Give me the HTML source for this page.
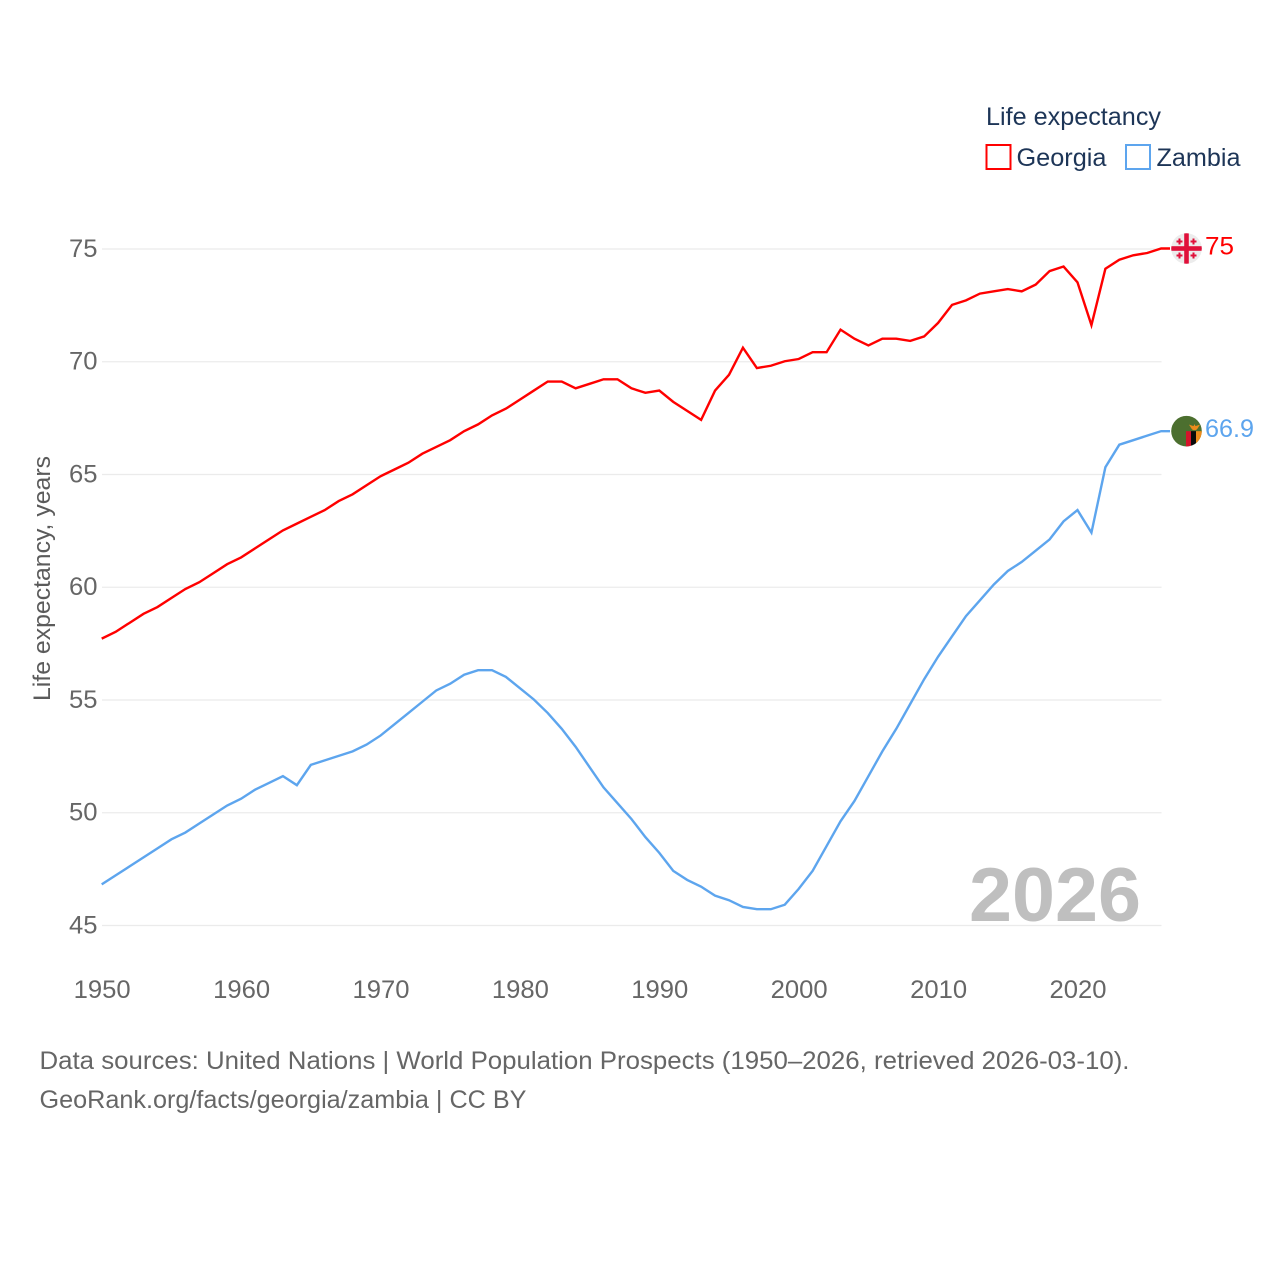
<!DOCTYPE html>
<html lang="en">
<head>
<meta charset="utf-8">
<title>Life expectancy: Georgia and Zambia</title>
<style>
html,body{margin:0;padding:0;background:#fff;width:1280px;height:1280px;overflow:hidden}
svg{display:block}
text{font-family:"Liberation Sans",sans-serif}
</style>
</head>
<body>
<svg id="chart" xmlns="http://www.w3.org/2000/svg" width="1280" height="1280" viewBox="0 0 1280 1280">
  <rect width="1280" height="1280" fill="#fff"/>
  <defs>
    <clipPath id="georgia-clip"><circle cx="0" cy="0" r="15.3"/></clipPath>
    <clipPath id="zambia-clip"><circle cx="0" cy="0" r="15.3"/></clipPath>
  </defs>
  <g id="grid"></g>
  <g id="yticks"></g>
  <g id="xticks"></g>
  <text transform="translate(50,701) rotate(-90)" font-size="24" fill="#5b5b5b" textLength="245" lengthAdjust="spacingAndGlyphs">Life expectancy, years</text>
  <text x="969" y="921" font-size="76" font-weight="700" fill="#bfbfbf" textLength="172" lengthAdjust="spacingAndGlyphs">2026</text>
  <g id="series" transform="translate(0,-0.5)"></g>

  <g id="georgia-flag">
    <g clip-path="url(#georgia-clip)">
      <rect x="-16" y="-16" width="32" height="32" fill="#ececec"/>
      <rect x="-2.3" y="-16" width="4.6" height="32" fill="#e0103a"/>
      <rect x="-16" y="-2.3" width="32" height="4.6" fill="#e0103a"/>
      <path d="M-8-10h2v2h2v2h-2v2h-2v-2h-2v-2h2zM6-10h2v2h2v2h-2v2h-2v-2h-2v-2h2zM-8 4h2v2h2v2h-2v2h-2v-2h-2v-2h2zM6 4h2v2h2v2h-2v2h-2v-2h-2v-2h2z" fill="#e0103a"/>
    </g>
  </g>
  <g id="zambia-flag">
    <g clip-path="url(#zambia-clip)">
      <rect x="-16" y="-16" width="32" height="32" fill="#4c6f2f"/>
      <rect x="-0.5" y="0" width="5" height="16" fill="#d5142b"/>
      <rect x="4.5" y="0" width="5" height="16" fill="#0b0b0b"/>
      <rect x="9.5" y="0" width="6" height="16" fill="#ee8c1c"/>
      <path d="M2.5-6.5l4.5 1.5 1-2 1 2 4.5-1.5-2.5 4-1.5 1.5h-3l-1.5-1.5z" fill="#ee8c1c"/>
    </g>
  </g>

  <g id="legend">
    <text x="986" y="125" font-size="25" fill="#1d3557" textLength="175" lengthAdjust="spacingAndGlyphs">Life expectancy</text>
    <g>
      <rect x="986.5" y="145" width="24" height="24" fill="#fff" stroke="#ff0000" stroke-width="2"/>
      <text x="1016.5" y="166" font-size="25" fill="#1d3557" textLength="90" lengthAdjust="spacingAndGlyphs">Georgia</text>
    </g>
    <g>
      <rect x="1126" y="145" width="24" height="24" fill="#fff" stroke="#5da5ee" stroke-width="2"/>
      <text x="1156.5" y="166" font-size="25" fill="#1d3557" textLength="84" lengthAdjust="spacingAndGlyphs">Zambia</text>
    </g>
  </g>

  <text x="39.5" y="1069" font-size="25" fill="#666" textLength="1090" lengthAdjust="spacingAndGlyphs">Data sources: United Nations | World Population Prospects (1950–2026, retrieved 2026-03-10).</text>
  <text x="39.5" y="1108" font-size="25" fill="#666" textLength="487" lengthAdjust="spacingAndGlyphs">GeoRank.org/facts/georgia/zambia | CC BY</text>
</svg>
<script>
const years = [1950,1951,1952,1953,1954,1955,1956,1957,1958,1959,1960,1961,1962,1963,1964,1965,1966,1967,1968,1969,1970,1971,1972,1973,1974,1975,1976,1977,1978,1979,1980,1981,1982,1983,1984,1985,1986,1987,1988,1989,1990,1991,1992,1993,1994,1995,1996,1997,1998,1999,2000,2001,2002,2003,2004,2005,2006,2007,2008,2009,2010,2011,2012,2013,2014,2015,2016,2017,2018,2019,2020,2021,2022,2023,2024,2025,2026];
const georgiaValues = [57.7,58.0,58.4,58.8,59.1,59.5,59.9,60.2,60.6,61.0,61.3,61.7,62.1,62.5,62.8,63.1,63.4,63.8,64.1,64.5,64.9,65.2,65.5,65.9,66.2,66.5,66.9,67.2,67.6,67.9,68.3,68.7,69.1,69.1,68.8,69.0,69.2,69.2,68.8,68.6,68.7,68.2,67.8,67.4,68.7,69.4,70.6,69.7,69.8,70.0,70.1,70.4,70.4,71.4,71.0,70.7,71.0,71.0,70.9,71.1,71.7,72.5,72.7,73.0,73.1,73.2,73.1,73.4,74.0,74.2,73.5,71.6,74.1,74.5,74.7,74.8,75.0];
const zambiaValues = [46.8,47.2,47.6,48.0,48.4,48.8,49.1,49.5,49.9,50.3,50.6,51.0,51.3,51.6,51.2,52.1,52.3,52.5,52.7,53.0,53.4,53.9,54.4,54.9,55.4,55.7,56.1,56.3,56.3,56.0,55.5,55.0,54.4,53.7,52.9,52.0,51.1,50.4,49.7,48.9,48.2,47.4,47.0,46.7,46.3,46.1,45.8,45.7,45.7,45.9,46.6,47.4,48.5,49.6,50.5,51.6,52.7,53.7,54.8,55.9,56.9,57.8,58.7,59.4,60.1,60.7,61.1,61.6,62.1,62.9,63.4,62.4,65.3,66.3,66.5,66.7,66.9];
const yTickValues = [45,50,55,60,65,70,75];
const xTickValues = [1950,1960,1970,1980,1990,2000,2010,2020];
const georgiaEndLabel = "75";
const zambiaEndLabel = "66.9";

const SVG_NS = "http://www.w3.org/2000/svg";
const X0 = 101.7, X_PER_YEAR = 13.94, Y0 = 925.5, Y_PER_UNIT = 22.55;
const GRID_RIGHT = 1161.5, TAIL_RIGHT = 1170, MARKER_X = 1186.5, LABEL_X = 1205;
function xScale(year){ return X0 + (year - 1950) * X_PER_YEAR; }
function yScale(value){ return Y0 - (value - 45) * Y_PER_UNIT; }
function make(tag, attrs){
  const el = document.createElementNS(SVG_NS, tag);
  for (const k in attrs) el.setAttribute(k, attrs[k]);
  return el;
}

const grid = document.getElementById("grid");
const yticks = document.getElementById("yticks");
const xticks = document.getElementById("xticks");
const series = document.getElementById("series");
const chart = document.getElementById("chart");

yTickValues.forEach(function(v){
  const line = make("line", {x1:102, x2:GRID_RIGHT, y1:yScale(v), y2:yScale(v), stroke:"#ebebeb", "stroke-width":1.3});
  
  
  grid.appendChild(line);
  const t = make("text", {x:97.5, y:yScale(v)+7.8, "font-size":25, fill:"#666", "text-anchor":"end", textLength:28.5, lengthAdjust:"spacingAndGlyphs"});
  
  
  t.textContent = String(v);
  yticks.appendChild(t);
});

xTickValues.forEach(function(y){
  const t = make("text", {x:xScale(y)+0.5, y:998, "font-size":25, fill:"#666", "text-anchor":"middle", textLength:57, lengthAdjust:"spacingAndGlyphs"});
  
  
  t.textContent = String(y);
  xticks.appendChild(t);
});

function linePoints(values){
  const pts = values.map(function(v, i){ return xScale(years[i]).toFixed(2) + "," + yScale(v).toFixed(2); });
  pts.push(TAIL_RIGHT + "," + yScale(values[values.length-1]).toFixed(2));
  return pts.join(" ");
}

const georgiaLine = make("polyline", {points:linePoints(georgiaValues), fill:"none", stroke:"#ff0000", "stroke-width":2.4, "stroke-linejoin":"miter"});


series.appendChild(georgiaLine);

const zambiaLine = make("polyline", {points:linePoints(zambiaValues), fill:"none", stroke:"#5da5ee", "stroke-width":2.4, "stroke-linejoin":"miter"});


series.appendChild(zambiaLine);

const georgiaLast = yScale(georgiaValues[georgiaValues.length-1]);
const zambiaLast = yScale(zambiaValues[zambiaValues.length-1]);
document.getElementById("georgia-flag").setAttribute("transform", "translate(" + MARKER_X + "," + (georgiaLast - 0.5) + ")");
document.getElementById("zambia-flag").setAttribute("transform", "translate(" + MARKER_X + "," + (zambiaLast - 0.5) + ")");

const georgiaEnd = make("text", {x:LABEL_X, y:georgiaLast+5.5, "font-size":25, fill:"#ff0000", textLength:29, lengthAdjust:"spacingAndGlyphs"});


georgiaEnd.textContent = georgiaEndLabel;
chart.appendChild(georgiaEnd);

const zambiaEnd = make("text", {x:LABEL_X, y:zambiaLast+5.5, "font-size":25, fill:"#5da5ee", textLength:49, lengthAdjust:"spacingAndGlyphs"});


zambiaEnd.textContent = zambiaEndLabel;
chart.appendChild(zambiaEnd);
</script>
</body>
</html>
